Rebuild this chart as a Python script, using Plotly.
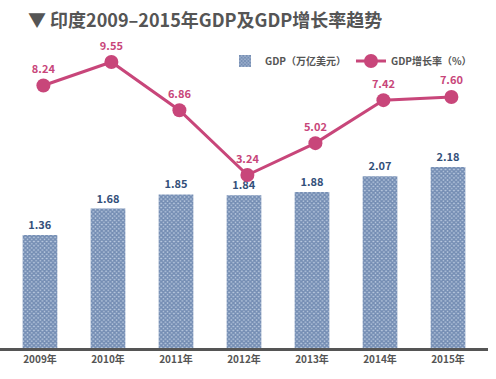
import plotly.graph_objects as go

years = ["2009年", "2010年", "2011年", "2012年", "2013年", "2014年", "2015年"]
gdp = [1.36, 1.68, 1.85, 1.84, 1.88, 2.07, 2.18]
growth = [8.24, 9.55, 6.86, 3.24, 5.02, 7.42, 7.60]
gdp_labels = ["1.36", "1.68", "1.85", "1.84", "1.88", "2.07", "2.18"]
growth_labels = ["8.24", "9.55", "6.86", "3.24", "5.02", "7.42", "7.60"]

FONT = "Noto Sans CJK SC"
PINK = "#c8467a"
L, R, T, B = 0, 8, 40, 31
PW, PH = 496 - L - R, 379 - T - B

fig = go.Figure()
fig.add_trace(go.Bar(
    x=years, y=gdp, name="GDP（万亿美元）",
    width=0.51,
    marker=dict(color="#b9c8de", line=dict(width=0),
                pattern=dict(shape="x", fgcolor="#2f5188", bgcolor="#b9c8de", size=3, solidity=0.75)),
    text=gdp_labels, textposition="outside", cliponaxis=False,
    textfont=dict(family=FONT, size=11, color="#33507a", weight="bold"),
))
fig.add_trace(go.Scatter(
    x=years, y=growth, name="GDP增长率（%）", yaxis="y2", xaxis="x2",
    mode="lines+markers+text",
    line=dict(color=PINK, width=3),
    marker=dict(color=PINK, size=14),
    text=growth_labels, textposition="top center", cliponaxis=False,
    textfont=dict(family=FONT, size=11, color=PINK, weight="bold"),
))

fig.add_annotation(
    text="▼ 印度2009–2015年GDP及GDP增长率趋势", xref="paper", yref="paper",
    x=(26 - L) / PW, y=(379 - B - 19) / PH, xanchor="left", yanchor="middle",
    showarrow=False, font=dict(family=FONT, size=18, color="#555555", weight="bold"),
)

fig.update_layout(
    width=496, height=379,
    margin=dict(l=L, r=R, t=T, b=B, autoexpand=False),
    paper_bgcolor="white", plot_bgcolor="white",
    font=dict(family=FONT, color="#555555"),
    showlegend=True,
    legend=dict(orientation="h", x=(225 - L) / PW, y=(379 - B - 61) / PH, xanchor="left", yanchor="middle",
                font=dict(family=FONT, size=10, color="#555555", weight="bold"),
                bgcolor="rgba(0,0,0,0)"),
    xaxis=dict(range=[-0.588, 6.588], showgrid=False, showline=True, linecolor="#555555",
               linewidth=3, ticks="", automargin=False,
               tickfont=dict(family=FONT, size=10, color="#555555", weight="bold")),
    xaxis2=dict(range=[-0.638, 6.538], overlaying="x", visible=False, automargin=False),
    yaxis=dict(range=[0, 3.71], visible=False, showgrid=False, automargin=False),
    yaxis2=dict(range=[-6.42, 10.78], overlaying="y", visible=False, showgrid=False, automargin=False),
)

fig.write_html("out.html", config={"displayModeBar": False},
               post_script="document.body.style.margin='0';")
